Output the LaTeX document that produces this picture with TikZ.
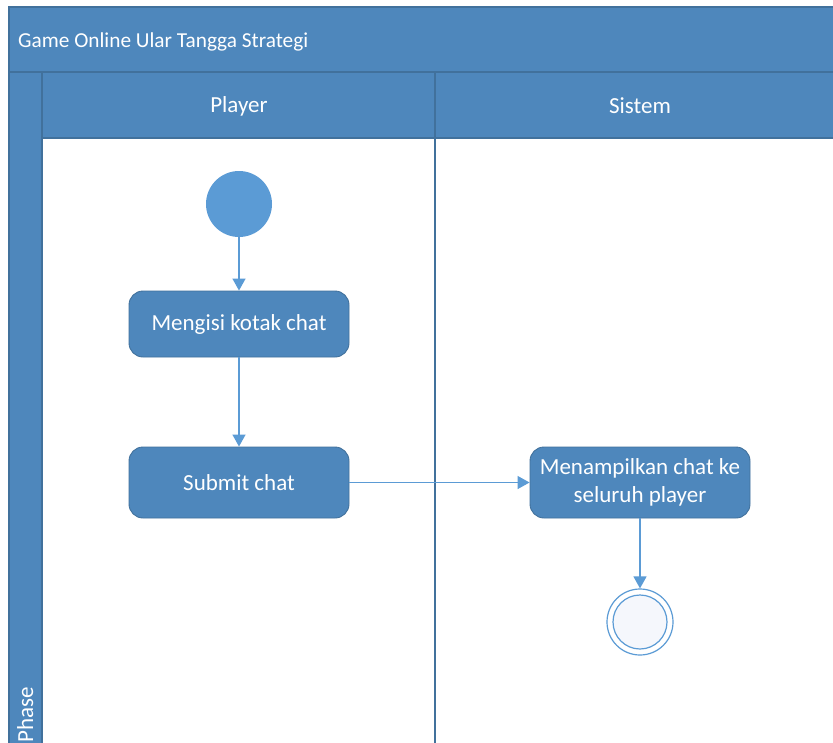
\documentclass[tikz,border=0pt]{standalone}
\usepackage{fontspec}
\setmainfont{Carlito}
\usetikzlibrary{arrows.meta}
\definecolor{laneblue}{HTML}{4E87BC}
\definecolor{laneedge}{HTML}{41719C}
\definecolor{startblue}{HTML}{5B9BD5}
\definecolor{flowblue}{HTML}{5B9BD5}
\definecolor{endfill}{HTML}{F5F7FC}
\tikzset{
  lane/.style={fill=laneblue, draw=laneedge, line width=1.2pt},
  divider/.style={draw=laneedge, line width=1.5pt},
  hdr/.style={text=white, font=\fontsize{23}{28}\selectfont, inner sep=0pt},
  activity/.style={rectangle, rounded corners=14pt, fill=laneblue, draw=laneedge,
    line width=0.9pt, minimum width=220pt, text=white, align=center,
    font=\fontsize{23}{28}\selectfont, inner sep=0pt},
  startnode/.style={circle, fill=startblue, minimum size=66pt, inner sep=0pt},
  endnode/.style={circle, draw=flowblue, line width=1.2pt, fill=white,
    minimum size=66pt, inner sep=0pt},
  endcorestyle/.style={circle, draw=flowblue, line width=1.2pt, fill=endfill,
    minimum size=54pt, inner sep=0pt},
  flow/.style={draw=flowblue, line width=1.3pt, -{Triangle[length=12pt,width=13pt]}},
}
\begin{document}
\begin{tikzpicture}[x=1pt,y=-1pt]
\useasboundingbox (0,0) rectangle (833,742);
% swimlane frame
\fill[white] (0,0) rectangle (833,742);
\draw[lane] (9,7) rectangle (840,72);
\draw[lane] (9,72) rectangle (42,750);
\draw[lane] (42,72) rectangle (840,138);
\draw[divider] (435,72) -- (435,750);
% headers
\node[hdr, font=\fontsize{21.3}{25}\selectfont, anchor=west] (title) at (18,42) {Game Online Ular Tangga Strategi};
\node[hdr] (player) at (239,106) {Player};
\node[hdr] (sistem) at (640,106) {Sistem};
\node[hdr, rotate=90, anchor=base west] (phase) at (33,743) {Phase};
% activity nodes
\node[startnode] (start) at (239,204) {};
\node[activity, minimum height=66pt] (isi) at (239,324) {Mengisi kotak chat};
\node[activity, minimum height=71pt] (submit) at (239,482.5) {Submit chat};
\node[activity, minimum height=71pt] (tampil) at (640,482.5) {Menampilkan chat ke\\seluruh player};
\node[endnode] (end) at (640,622) {};
\node[endcorestyle] (endcore) at (640,622) {};
% control flow
\draw[flow] (start) -- (isi);
\draw[flow] (isi) -- (submit);
\draw[flow] (submit) -- (tampil);
\draw[flow] (tampil) -- (end);
\end{tikzpicture}
\end{document}
